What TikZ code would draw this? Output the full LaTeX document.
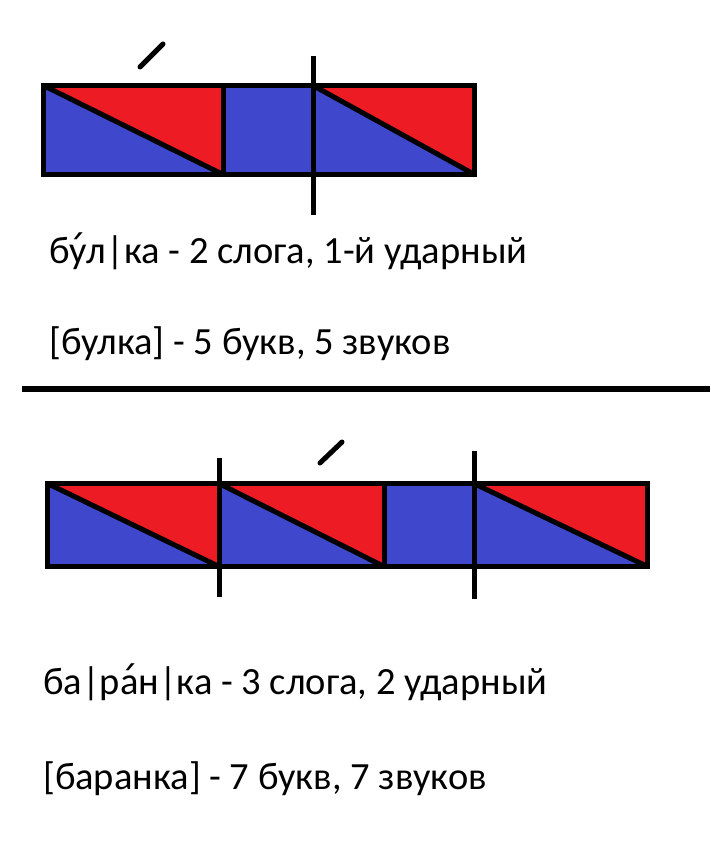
\documentclass[tikz,border=0pt]{standalone}
\usepackage{fontspec}
\setmainfont{Carlito}
\newfontfamily\accentfont{DejaVu Sans}
\newcommand{\acc}{{\accentfont\symbol{"0301}}}
\definecolor{paintred}{RGB}{237,28,36}
\definecolor{paintblue}{RGB}{63,72,204}
\tikzset{
	frameline/.style={line width=5pt},
	syllable/.style={line width=5pt},
	stress/.style={line width=5pt, line cap=round},
	label/.style={anchor=base west, inner sep=0pt, font=\fontsize{38.5}{44}\selectfont}
}
\begin{document}
\begin{tikzpicture}[x=1pt, y=-1pt]
	\useasboundingbox[fill=white] (0, 0) rectangle (710, 842);

	% bulka
	\fill[paintred] (43.5, 85.5) -- (223, 85.5) -- (223, 174.5) -- cycle;
	\fill[paintblue] (43.5, 85.5) -- (43.5, 174.5) -- (223, 174.5) -- cycle;
	\fill[paintblue] (223, 85.5) rectangle (313, 174.5);
	\fill[paintred] (313, 85.5) -- (474.5, 85.5) -- (474.5, 174.5) -- cycle;
	\fill[paintblue] (313, 85.5) -- (313, 174.5) -- (474.5, 174.5) -- cycle;
	\draw[frameline] (43.5, 85.5) -- (223, 174.5);
	\draw[frameline] (313, 85.5) -- (474.5, 174.5);
	\draw[frameline] (223, 85.5) -- (223, 174.5);
	\draw[frameline] (43.5, 85.5) rectangle (474.5, 174.5);
	\draw[syllable] (313, 56) -- (313, 215);
	\draw[stress] (140, 67) -- (163, 44);

	\node[label] (bulkaSyl) at (49, 263) {бу\acc л|ка - 2 слога, 1-й ударный};
	\node[label] (bulkaSnd) at (49, 354) {[булка] - 5 букв, 5 звуков};

	\draw[line width=6pt] (22, 389) -- (710, 389);

	% baranka
	\fill[paintred] (47.5, 483.5) -- (219, 483.5) -- (219, 566.5) -- cycle;
	\fill[paintblue] (47.5, 483.5) -- (47.5, 566.5) -- (219, 566.5) -- cycle;
	\fill[paintred] (219, 483.5) -- (384, 483.5) -- (384, 566.5) -- cycle;
	\fill[paintblue] (219, 483.5) -- (219, 566.5) -- (384, 566.5) -- cycle;
	\fill[paintblue] (384, 483.5) rectangle (474, 566.5);
	\fill[paintred] (474, 483.5) -- (647.5, 483.5) -- (647.5, 566.5) -- cycle;
	\fill[paintblue] (474, 483.5) -- (474, 566.5) -- (647.5, 566.5) -- cycle;
	\draw[frameline] (47.5, 483.5) -- (219, 566.5);
	\draw[frameline] (219, 483.5) -- (384, 566.5);
	\draw[frameline] (474, 483.5) -- (647.5, 566.5);
	\draw[frameline] (384, 483.5) -- (384, 566.5);
	\draw[frameline] (47.5, 483.5) rectangle (647.5, 566.5);
	\draw[syllable] (219, 458) -- (219, 597);
	\draw[syllable] (474, 451) -- (474, 599);
	\draw[stress] (320, 463) -- (342, 442);

	\node[label] (barankaSyl) at (43, 694) {ба|ра\acc н|ка - 3 слога, 2 ударный};
	\node[label] (barankaSnd) at (43, 789) {[баранка] - 7 букв, 7 звуков};
\end{tikzpicture}
\end{document}
